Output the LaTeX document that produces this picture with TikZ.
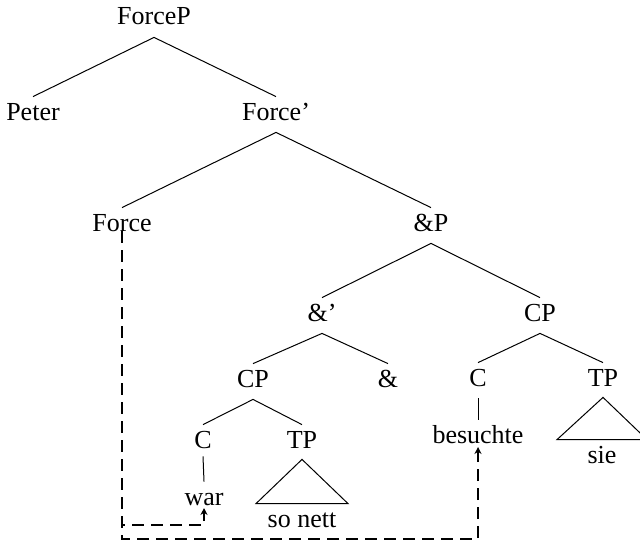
\documentclass[tikz,border=0pt]{standalone}
\usepackage{fontspec}
\setmainfont{Liberation Serif}
\usetikzlibrary{arrows.meta,calc}
\begin{document}
\begin{tikzpicture}[x=0.5pt,y=-0.5pt,
  lab/.style={anchor=base,inner sep=0pt,text height=11.5pt,text depth=6pt,font=\fontsize{13}{15}\selectfont},
  edge/.style={line width=0.5pt},
  mv/.style={line width=1pt,dash pattern=on 6pt off 3.5pt,-{Stealth[length=3.5pt,width=3.5pt]}}]
\clip (0,0) rectangle (640,546);
% nodes
\node[lab] (forcep) at (154,25) {ForceP};
\node[lab] (peter) at (33,120) {Peter};
\node[lab] (forcebar) at (276,120) {Force’};
\node[lab] (force) at (122,231) {Force};
\node[lab] (andp) at (431,231) {\&P};
\node[lab] (andbar) at (322,321) {\&’};
\node[lab] (cpR) at (540,321) {CP};
\node[lab] (cpL) at (253,387) {CP};
\node[lab] (amp) at (388,387) {\&};
\node[lab] (cR) at (478,386) {C};
\node[lab] (tpR) at (603,386) {TP};
\node[lab] (cL) at (203,448) {C};
\node[lab] (tpL) at (302,448) {TP};
\node[lab] (war) at (204,505) {war};
\node[lab] (sonett) at (302,527) {so nett};
\node[lab] (besuchte) at (478,443) {besuchte};
\node[lab] (sie) at (602,463) {sie};
% tree edges
\draw[edge] (forcep.south) -- (peter.north);
\draw[edge] (forcep.south) -- (forcebar.north);
\draw[edge] (forcebar.south) -- (force.north);
\draw[edge] (forcebar.south) -- (andp.north);
\draw[edge] (andp.south) -- (andbar.north);
\draw[edge] (andp.south) -- (cpR.north);
\draw[edge] (andbar.south) -- (cpL.north);
\draw[edge] (andbar.south) -- (amp.north);
\draw[edge] (cpR.south) -- (cR.north);
\draw[edge] (cpR.south) -- (tpR.north);
\draw[edge] (cpL.south) -- (cL.north);
\draw[edge] (cpL.south) -- (tpL.north);
\draw[edge] ([yshift=2pt]cL.south) -- (war.north);
\draw[edge] (cR.south) -- (besuchte.north);
% triangles
\draw[edge] ([yshift=0.5pt]tpL.south) -- ([xshift=-23pt]sonett.north) -- ([xshift=23pt]sonett.north) -- cycle;
\draw[edge] ([yshift=0.5pt]tpR.south) -- ([xshift=-22.5pt]sie.north) -- ([xshift=22.5pt]sie.north) -- cycle;
% movement arrows
\draw[mv] (force.base) |- ($(war.base)+(0,20)$) -- ($(war.base)+(0,3)$);
\draw[mv] (force.base) |- ($(besuchte.base)+(0,96)$) -- ($(besuchte.base)+(0,4)$);
\end{tikzpicture}
\end{document}
